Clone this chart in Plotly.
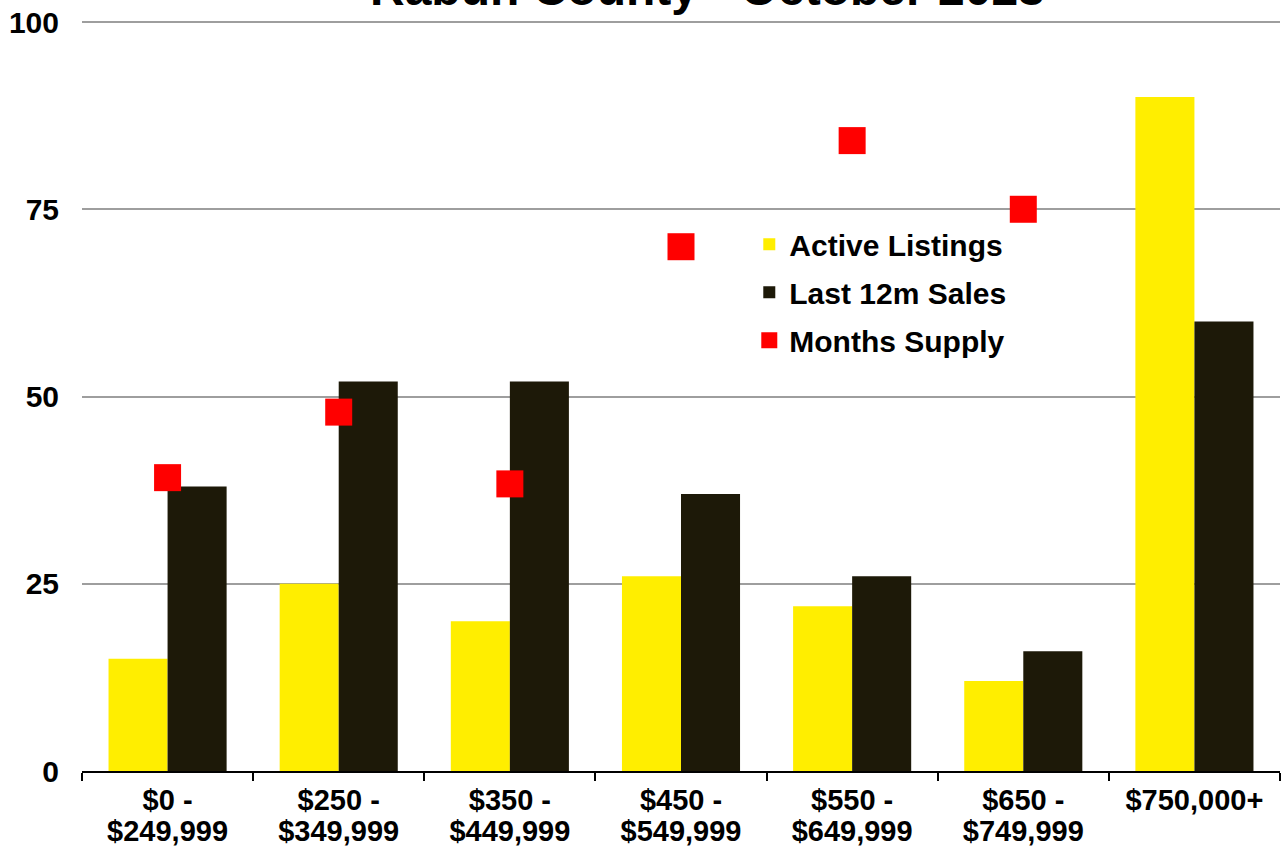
import plotly.graph_objects as go

categories = ["$0 -<br>$249,999", "$250 -<br>$349,999", "$350 -<br>$449,999",
              "$450 -<br>$549,999", "$550 -<br>$649,999", "$650 -<br>$749,999",
              "$750,000+"]
active_listings = [15, 25, 20, 26, 22, 12, 90]
last_12m_sales = [38, 52, 52, 37, 26, 16, 60]
months_supply = [4.7, 5.75, 4.6, 8.4, 10.1, 9.0, 18.0]
y_ticks = [0, 25, 50, 75, 100]
title_text = "Rabun County - October 2023"

FONT = "Liberation Sans, Arial, sans-serif"

# tick labels: larger glyphs on a tighter line pitch
tick_text = ["<br>".join('<span style="font-size:29px">%s</span>' % part
                         for part in c.split("<br>")) for c in categories]

fig = go.Figure()
fig.add_trace(go.Bar(x=categories, y=active_listings, name="Active Listings",
                     legendgroup="a",
                     marker=dict(color="#FFEE00", line=dict(width=0))))
fig.add_trace(go.Bar(x=categories, y=last_12m_sales, name="Last 12m Sales",
                     legendgroup="b",
                     marker=dict(color="#1D1908", line=dict(width=0))))
fig.add_trace(go.Scatter(x=categories, y=months_supply, name="Months Supply",
                         mode="markers", yaxis="y2", legendgroup="c",
                         marker=dict(symbol="square", size=27, color="#FF0000",
                                     line=dict(width=0))))

fig.update_layout(
    width=1284, height=850,
    margin=dict(l=82, r=4, t=20, b=79, autoexpand=False),
    paper_bgcolor="white", plot_bgcolor="white",
    barmode="group", bargap=0.31, bargroupgap=0,
    font=dict(family=FONT, color="black", size=28, weight="bold"),
    showlegend=True,
    legend=dict(x=0.557, y=0.736, xanchor="left", yanchor="top",
                bgcolor="rgba(0,0,0,0)", traceorder="grouped", tracegroupgap=6,
                font=dict(family=FONT, size=30, color="black", weight="bold")),
    xaxis=dict(type="category", showline=True, linecolor="black", linewidth=2,
               ticks="outside", tickson="boundaries", ticklen=8, tickwidth=2,
               tickcolor="black", showgrid=False, automargin=False,
               tickmode="array", tickvals=categories, ticktext=tick_text,
               ticklabelstandoff=8,
               tickfont=dict(family=FONT, size=24, color="black", weight="bold")),
    yaxis=dict(range=[0, 100.27], tickvals=y_ticks, showgrid=True,
               gridcolor="#9E9E9E", gridwidth=2, zeroline=False, showline=False,
               ticks="", ticklabelstandoff=22, automargin=False,
               tickfont=dict(family=FONT, size=30, color="black", weight="bold")),
    yaxis2=dict(range=[0, 12.0324], overlaying="y", side="right", visible=False,
                showgrid=False),
    annotations=[dict(text=title_text, xref="paper", yref="paper", x=0.5225, y=1,
                      xanchor="center", yanchor="bottom", yshift=3, showarrow=False,
                      font=dict(family=FONT, size=48, color="black", weight="bold"))],
)

fig.write_html("out.html", config={"displayModeBar": False},
               post_script="document.body.style.margin='0';")
